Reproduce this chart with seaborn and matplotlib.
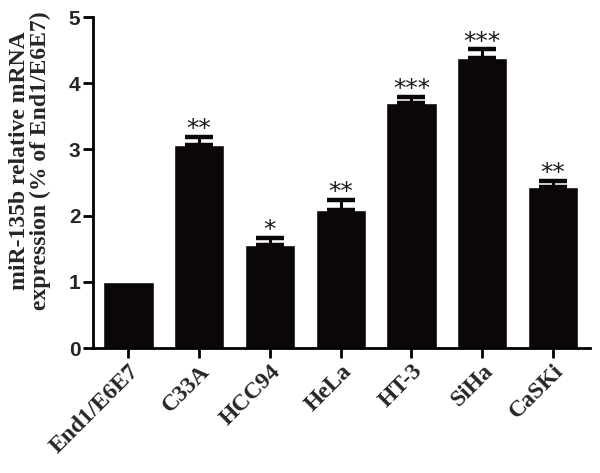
import numpy as np
import pandas as pd
import seaborn as sns
import matplotlib.pyplot as plt

# Values
cell_lines = ["End1/E6E7", "C33A", "HCC94", "HeLa", "HT-3", "SiHa", "CaSKi"]
expression = [1.00, 3.06, 1.56, 2.09, 3.70, 4.38, 2.43]
sem = [0.0, 0.13, 0.11, 0.15, 0.09, 0.13, 0.10]
stars = ["", "**", "*", "**", "***", "***", "**"]

df = pd.DataFrame({"line": cell_lines, "expr": expression})

sns.set_style("ticks")
plt.rcParams['font.family'] = ['Liberation Serif', 'DejaVu Serif']

fig = plt.figure(figsize=(6, 4.73), dpi=100)
ax = fig.add_axes([0.155, 0.264, 0.828, 0.70])

bar_color = "#0b0707"
sns.barplot(data=df, x="line", y="expr", color=bar_color, width=0.71,
            saturation=1, errorbar=None, ax=ax)

# upper error bars only (skip the reference line, it has none)
xpos = np.arange(len(cell_lines))
has_err = np.array(sem) > 0
ax.errorbar(xpos[has_err], np.array(expression)[has_err],
            yerr=[np.zeros(has_err.sum()), np.array(sem)[has_err]], fmt="none",
            ecolor=bar_color, elinewidth=2.2, capsize=10, capthick=3.2)

# significance markers
for x, y, e, s in zip(xpos, expression, sem, stars):
    if s:
        ax.text(x, y + e + 0.01, s, ha="center", va="baseline",
                fontsize=18, family="DejaVu Sans", color="#1a1a1a")

ax.set_ylim(0, 5)
ax.set_xlim(-0.5, 6.52)
ax.set_yticks([0, 1, 2, 3, 4, 5])
ax.set_yticklabels(["0", "1", "2", "3", "4", "5"], family="Liberation Sans",
                   fontweight="bold", fontsize=15)
ax.set_xticks(xpos)
ax.set_xticklabels(cell_lines, rotation=45, ha="right", rotation_mode="anchor",
                   fontweight="bold", fontsize=17)
ax.set_xlabel("")
ax.set_ylabel("miR-135b relative mRNA\nexpression (% of End1/E6E7)",
              fontweight="bold", fontsize=17, linespacing=0.95)
ax.yaxis.set_label_coords(-0.085, 0.565)

sns.despine(ax=ax)
for side in ["left", "bottom"]:
    ax.spines[side].set_linewidth(2)
    ax.spines[side].set_color("black")
ax.tick_params(axis="both", width=2, length=7, color="black", pad=2)

fig.savefig("out.png", dpi=100)
